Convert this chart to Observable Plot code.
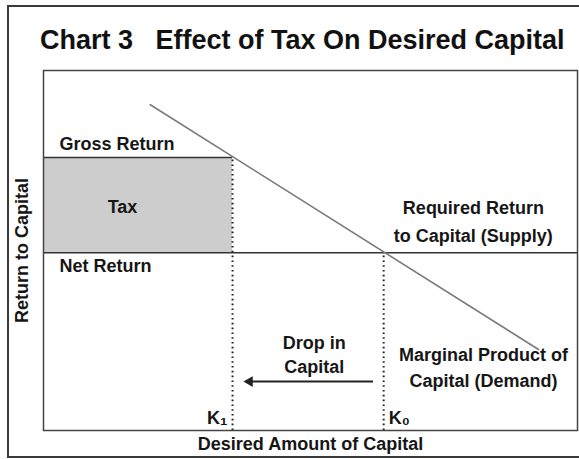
<!DOCTYPE html>
<html><head><meta charset="utf-8">
<script src="https://cdn.jsdelivr.net/npm/d3@7"></script>
<script src="https://cdn.jsdelivr.net/npm/@observablehq/plot@0.6"></script>
<style>
html,body{margin:0;padding:0;background:#fff;}
#wrap{position:relative;width:579px;height:459px;overflow:hidden;font-family:"Liberation Sans",Arial,sans-serif;}
#border{position:absolute;left:7px;top:5px;width:600px;height:453px;border:2px solid #3a3a3a;border-right:none;box-sizing:border-box}
#title{position:absolute;left:40px;top:24px;font-size:27px;font-weight:bold;color:#111;white-space:pre;line-height:32px}
#chart{position:absolute;left:0;top:60px}
</style></head>
<body>
<div id="wrap">
  <div id="border"></div>
  <div id="title"></div>
  <div id="chart"></div>
</div>
<script>
// ---- chart values (abstract units 0..100 on both axes) ----
const titleText = "Chart 3   Effect of Tax On Desired Capital";
const xAxisLabel = "Desired Amount of Capital";
const yAxisLabel = "Return to Capital";

const grossReturn = 75.8;     // return level before tax
const netReturn = 49.4;       // return level after tax
const capitalLevels = [       // K1 (with tax) and K0 (without tax)
  {name: "K₁", x: 35.4, top: 75.8, anchor: "end"},
  {name: "K₀", x: 63.7, top: 49.4, anchor: "start"}
];
const demandCurve = [         // marginal product of capital
  {x: 20.0, y: 90.5},
  {x: 92.7, y: 22.5}
];
const dropArrow = [{x1: 61.8, x2: 38.6, y: 13.6}];

const annotations = [
  {text: "Gross Return", x: 3.0, y: 79.4, anchor: "start"},
  {text: "Tax", x: 14.8, y: 61.9, anchor: "middle"},
  {text: "Net Return", x: 3.0, y: 45.6, anchor: "start"},
  {text: "Required Return", x: 80.5, y: 61.7, anchor: "middle"},
  {text: "to Capital (Supply)", x: 80.5, y: 53.9, anchor: "middle"},
  {text: "Drop in", x: 50.7, y: 24.2, anchor: "middle"},
  {text: "Capital", x: 50.7, y: 17.5, anchor: "middle"},
  {text: "Marginal Product of", x: 82.4, y: 20.8, anchor: "middle"},
  {text: "Capital (Demand)", x: 82.4, y: 13.6, anchor: "middle"}
];
const kLabelY = 3.3;

document.getElementById("title").textContent = titleText;

const ink = "#161616";
const font = "'Liberation Sans', Arial, sans-serif";
const textStyle = {fontSize: 18, fontWeight: "bold", fill: ink, lineAnchor: "middle"};

const chart = Plot.plot({
  width: 579,
  height: 399,
  marginLeft: 43,
  marginRight: 2,
  marginTop: 10,
  marginBottom: 29,
  style: {fontFamily: font, background: "transparent", overflow: "visible"},
  x: {domain: [0, 100], axis: null},
  y: {domain: [0, 100], axis: null},
  marks: [
    // tax wedge
    Plot.rect([{x1: 0, x2: capitalLevels[0].x, y1: netReturn, y2: grossReturn}],
      {x1: "x1", x2: "x2", y1: "y1", y2: "y2", fill: "#cdcdcd"}),
    // gross return (top of tax box)
    Plot.ruleY([grossReturn], {x1: 0, x2: capitalLevels[0].x, stroke: "#333", strokeWidth: 1.5}),
    // net return / required return (supply)
    Plot.ruleY([netReturn], {x1: 0, x2: 100, stroke: "#333", strokeWidth: 1.5}),
    // dotted drop lines at K1 and K0
    Plot.ruleX(capitalLevels, {x: "x", y1: 0, y2: "top", stroke: "#222", strokeWidth: 2, strokeDasharray: "1.6,3.2"}),
    // demand curve
    Plot.line(demandCurve, {x: "x", y: "y", stroke: "#7a7a7a", strokeWidth: 1.6}),
    // arrow
    Plot.ruleY(dropArrow, {x1: "x1", x2: "x2", y: "y", stroke: "#222", strokeWidth: 2}),
    Plot.dot(dropArrow, {x: "x2", y: "y", symbol: "triangle", r: 4, rotate: -90, fill: "#222", stroke: "none"}),
    // annotations
    Plot.text(annotations.filter(d => d.anchor === "start"), {x: "x", y: "y", text: "text", textAnchor: "start", ...textStyle}),
    Plot.text(annotations.filter(d => d.anchor === "middle"), {x: "x", y: "y", text: "text", textAnchor: "middle", ...textStyle}),
    Plot.text(capitalLevels.filter(d => d.anchor === "end"), {x: "x", y: kLabelY, text: "name", textAnchor: "end", dx: -5, ...textStyle}),
    Plot.text(capitalLevels.filter(d => d.anchor === "start"), {x: "x", y: kLabelY, text: "name", textAnchor: "start", dx: 5, ...textStyle}),
    // axis titles
    Plot.text([xAxisLabel], {frameAnchor: "bottom", text: d => d, dy: 14, textAnchor: "middle", ...textStyle}),
    Plot.text([yAxisLabel], {frameAnchor: "left", text: d => d, dx: -21, rotate: -90, textAnchor: "middle", ...textStyle}),
    Plot.frame({stroke: "#444", strokeWidth: 1.5})
  ]
});
document.getElementById("chart").appendChild(chart);
</script>
</body></html>
